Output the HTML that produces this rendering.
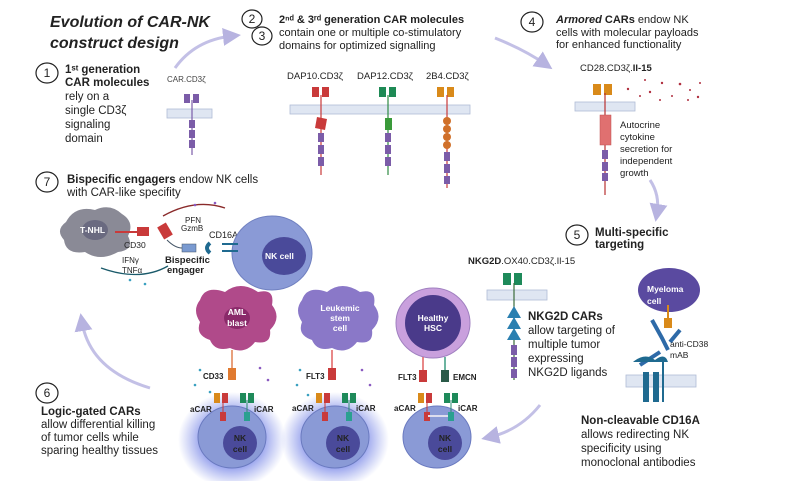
<!DOCTYPE html>
<html><head><meta charset="utf-8"><style>
body{margin:0;background:#fff}
svg{display:block}
text{font-family:"Liberation Sans",sans-serif;fill:#222}
.b{font-weight:bold}
.t{font-size:11.5px}
.s{font-size:8px;fill:#444}
.w{fill:#fff;font-weight:bold;font-size:8.5px}
</style></head><body>
<svg width="810" height="481" viewBox="0 0 810 481" xmlns="http://www.w3.org/2000/svg">
<defs>
<radialGradient id="glow"><stop offset="0.55" stop-color="#4a5de0" stop-opacity="0.6"/><stop offset="1" stop-color="#5a6de0" stop-opacity="0"/></radialGradient>
<marker id="ah" markerWidth="6" markerHeight="6" refX="3" refY="3" orient="auto"><path d="M0,0L6,3L0,6z" fill="#b7b3e0"/></marker>
</defs>
<text x="50" y="27" class="b" font-size="16" font-style="italic">Evolution of CAR-NK</text>
<text x="50" y="48" class="b" font-size="16" font-style="italic">construct design</text>
<g fill="none" stroke="#c3c0e6" stroke-width="3">
<path d="M175,68 Q195,40 232,36" marker-end="url(#ah)"/>
<path d="M495,38 Q525,50 545,64" marker-end="url(#ah)"/>
<path d="M650,180 Q660,195 657,213" marker-end="url(#ah)"/>
<path d="M540,405 Q520,430 490,437" marker-end="url(#ah)"/>
<path d="M150,388 Q90,370 82,322" marker-end="url(#ah)"/>
</g>
<g fill="#fff" stroke="#222" stroke-width="1.2">
<ellipse cx="252" cy="19" rx="10" ry="9"/><ellipse cx="262" cy="36" rx="10" ry="9"/>
<ellipse cx="532" cy="22" rx="11" ry="10"/><ellipse cx="47" cy="73" rx="11" ry="10"/>
<ellipse cx="577" cy="235" rx="11" ry="10"/><ellipse cx="47" cy="182" rx="11" ry="10"/>
<ellipse cx="47" cy="393" rx="11" ry="10"/>
</g>
<g font-size="12" text-anchor="middle"><text x="252" y="23">2</text><text x="262" y="40">3</text><text x="532" y="26">4</text><text x="47" y="77">1</text><text x="577" y="239">5</text><text x="47" y="186">7</text><text x="47" y="397">6</text></g>
<text x="279" y="23" font-size="11"><tspan class="b">2ⁿᵈ &amp; 3ʳᵈ generation CAR molecules</tspan></text>
<text x="279" y="36" font-size="11">contain one or multiple co-stimulatory</text>
<text x="279" y="49" font-size="11">domains for optimized signalling</text>
<text x="556" y="23" font-size="11"><tspan class="b" font-style="italic">Armored</tspan><tspan class="b"> CARs</tspan> endow NK</text>
<text x="556" y="36" font-size="11">cells with molecular payloads</text>
<text x="556" y="48" font-size="11">for enhanced functionality</text>
<text x="65" y="73" class="t b">1ˢᵗ generation</text>
<text x="65" y="86" class="t b">CAR molecules</text>
<text x="65" y="100" class="t">rely on a</text>
<text x="65" y="114" class="t">single CD3ζ</text>
<text x="65" y="128" class="t">signaling</text>
<text x="65" y="142" class="t">domain</text>
<text x="167" y="82" class="s">CAR.CD3ζ</text>
<text x="287" y="79" font-size="9.5">DAP10.CD3ζ</text>
<text x="357" y="79" font-size="9.5">DAP12.CD3ζ</text>
<text x="426" y="79" font-size="9.5">2B4.CD3ζ</text>
<text x="580" y="71" font-size="9.5">CD28.CD3ζ.<tspan class="b">Il-15</tspan></text>
<g font-size="9.5"><text x="620" y="128">Autocrine</text><text x="620" y="140">cytokine</text><text x="620" y="152">secretion for</text><text x="620" y="164">independent</text><text x="620" y="176">growth</text></g>
<text x="595" y="236" class="t b">Multi-specific</text>
<text x="595" y="248" class="t b">targeting</text>
<text x="468" y="264" font-size="9.5"><tspan class="b">NKG2D</tspan>.OX40.CD3ζ.Il-15</text>
<text x="528" y="320" class="t b">NKG2D CARs</text>
<g class="t"><text x="528" y="334">allow targeting of</text><text x="528" y="348">multiple tumor</text><text x="528" y="362">expressing</text><text x="528" y="376">NKG2D ligands</text></g>
<text x="581" y="424" class="t b">Non-cleavable CD16A</text>
<g class="t"><text x="581" y="438">allows redirecting NK</text><text x="581" y="452">specificity using</text><text x="581" y="466">monoclonal antibodies</text></g>
<text x="67" y="183" class="t"><tspan class="b">Bispecific engagers</tspan> endow NK cells</text>
<text x="67" y="196" class="t">with CAR-like specifity</text>
<text x="41" y="415" class="t b">Logic-gated CARs</text>
<g class="t"><text x="41" y="428">allow differential killing</text><text x="41" y="441">of  tumor cells while</text><text x="41" y="454">sparing healthy tissues</text></g>
<g fill="#dfe6f2" stroke="#b0bcd6" stroke-width="0.8">
<rect x="167" y="109" width="45" height="9"/>
<rect x="290" y="105" width="180" height="9"/>
<rect x="575" y="102" width="60" height="9"/>
<rect x="487" y="290" width="60" height="10"/>
<rect x="626" y="375" width="70" height="12"/>
</g>
<g>
<rect x="184" y="94" width="6" height="9" fill="#7b5ca8"/><rect x="193" y="94" width="6" height="9" fill="#7b5ca8"/>
<line x1="192" y1="100" x2="192" y2="155" stroke="#7b5ca8" stroke-width="1.2"/>
<rect x="189" y="120" width="6" height="8" fill="#7b5ca8"/><rect x="189" y="130" width="6" height="8" fill="#7b5ca8"/><rect x="189" y="140" width="6" height="8" fill="#7b5ca8"/>
</g>
<g><rect x="312" y="87" width="7" height="10" fill="#c93a3a"/><rect x="322" y="87" width="7" height="10" fill="#c93a3a"/>
<line x1="321" y1="95" x2="321" y2="175" stroke="#c93a3a" stroke-width="1.2"/>
<path d="M317,117 L327,119 L325,130 L315,128z" fill="#c93a3a"/>
<rect x="318" y="133" width="6" height="9" fill="#7b5ca8"/><rect x="318" y="145" width="6" height="9" fill="#7b5ca8"/><rect x="318" y="157" width="6" height="9" fill="#7b5ca8"/></g>
<g><rect x="379" y="87" width="7" height="10" fill="#1e8a55"/><rect x="389" y="87" width="7" height="10" fill="#1e8a55"/>
<line x1="388" y1="95" x2="388" y2="175" stroke="#2e8a44" stroke-width="1.2"/>
<rect x="385" y="118" width="7" height="12" fill="#3a9a3a"/>
<rect x="385" y="133" width="6" height="9" fill="#7b5ca8"/><rect x="385" y="145" width="6" height="9" fill="#7b5ca8"/><rect x="385" y="157" width="6" height="9" fill="#7b5ca8"/></g>
<g><rect x="437" y="87" width="7" height="10" fill="#d98a1a"/><rect x="447" y="87" width="7" height="10" fill="#d98a1a"/>
<line x1="447" y1="95" x2="447" y2="188" stroke="#c93a3a" stroke-width="1.2"/>
<g fill="#d0702a"><circle cx="447" cy="121" r="4"/><circle cx="447" cy="129" r="4"/><circle cx="447" cy="137" r="4"/><circle cx="447" cy="145" r="4"/></g>
<rect x="444" y="152" width="6" height="9" fill="#7b5ca8"/><rect x="444" y="164" width="6" height="9" fill="#7b5ca8"/><rect x="444" y="176" width="6" height="8" fill="#7b5ca8"/></g>
<g><rect x="593" y="84" width="8" height="11" fill="#d98a1a"/><rect x="604" y="84" width="8" height="11" fill="#d98a1a"/>
<line x1="605" y1="93" x2="605" y2="195" stroke="#b83030" stroke-width="1.2"/>
<rect x="600" y="115" width="11" height="30" fill="#e07070" stroke="#c05050" stroke-width="0.5"/>
<rect x="602" y="150" width="6" height="9" fill="#7b5ca8"/><rect x="602" y="162" width="6" height="9" fill="#7b5ca8"/><rect x="602" y="173" width="6" height="8" fill="#7b5ca8"/>
<g fill="#b03040"><circle cx="628" cy="89" r="1.2"/><circle cx="645" cy="80" r="1"/><circle cx="650" cy="92" r="1.2"/><circle cx="662" cy="83" r="1.2"/><circle cx="672" cy="96" r="1"/><circle cx="680" cy="84" r="1.3"/><circle cx="690" cy="90" r="1"/><circle cx="698" cy="97" r="1.2"/><circle cx="700" cy="83" r="1"/><circle cx="660" cy="100" r="1"/><circle cx="640" cy="96" r="1"/><circle cx="688" cy="100" r="1"/></g></g>
<g><rect x="503" y="273" width="8" height="12" fill="#1e8a5a"/><rect x="514" y="273" width="8" height="12" fill="#1e8a5a"/>
<line x1="514" y1="283" x2="514" y2="380" stroke="#3a6a3a" stroke-width="1.2"/>
<g fill="#2a7fb0"><path d="M507,318 L514,306 L521,318z"/><path d="M507,329 L514,317 L521,329z"/><path d="M507,340 L514,328 L521,340z"/></g>
<rect x="511" y="345" width="6" height="10" fill="#7b5ca8"/><rect x="511" y="357" width="6" height="10" fill="#7b5ca8"/><rect x="511" y="369" width="6" height="9" fill="#7b5ca8"/></g>
<ellipse cx="669" cy="290" rx="31" ry="22" fill="#5a4aa0"/>
<text x="647" y="292" class="w" font-size="10">Myeloma</text><text x="647" y="304" class="w" font-size="10">cell</text>
<line x1="668" y1="305" x2="668" y2="320" stroke="#d98a1a" stroke-width="2"/>
<rect x="664" y="318" width="8" height="10" fill="#d98a1a"/>
<g stroke="#2e6aa8" stroke-width="4" fill="none"><path d="M652,320 L662,338 L668,350"/><path d="M680,330 L670,342"/><path d="M660,352 L640,365"/></g>
<text x="670" y="347" font-size="8.5">anti-CD38</text><text x="670" y="358" font-size="8.5">mAB</text>
<path d="M633,362 Q645,352 655,360 Q665,352 668,362 Z" fill="#1f6a90"/>
<rect x="643" y="372" width="6" height="30" fill="#1f6a90"/><rect x="653" y="372" width="6" height="30" fill="#1f6a90"/>
<line x1="663" y1="362" x2="663" y2="402" stroke="#1f6a90" stroke-width="2"/>
<path d="M66,222 Q75,205 95,210 Q110,203 122,214 Q135,222 128,236 Q135,250 118,252 Q100,262 85,252 Q66,255 64,240 Q55,230 66,222z" fill="#8a8a96"/>
<ellipse cx="95" cy="230" rx="13" ry="10" fill="#6a6a80"/>
<text x="80" y="233" class="w">T-NHL</text>
<line x1="115" y1="232" x2="140" y2="232" stroke="#c93a3a" stroke-width="2"/>
<rect x="137" y="227" width="12" height="9" fill="#c93a3a"/>
<text x="124" y="248" font-size="8.5">CD30</text>
<rect x="160" y="224" width="10" height="14" fill="#c93a3a" transform="rotate(-30 165 231)"/>
<rect x="182" y="244" width="14" height="8" fill="#7a9ad0" stroke="#456" stroke-width="0.5"/>
<path d="M167,240 Q175,248 182,248" stroke="#456" fill="none"/>
<path d="M210,243 Q204,248 210,253" stroke="#1f6a90" stroke-width="4" fill="none"/>
<text x="165" y="263" font-size="9.5" fill="#d03030" class="b">Bispecific</text>
<text x="167" y="273" font-size="9.5" fill="#d03030" class="b">engager</text>
<text x="122" y="263" font-size="8" fill="#2aa0c0">IFNγ</text>
<text x="122" y="273" font-size="8" fill="#7ab050">TNFα</text>
<text x="185" y="223" font-size="8" fill="#d08a30">PFN</text>
<text x="181" y="231" font-size="8" fill="#8a5ac0">GzmB</text>
<text x="209" y="238" font-size="9">CD16A</text>
<path d="M225,208 Q195,198 163,216" fill="none" stroke="#8a2a2a" stroke-width="1.3"/>
<path d="M168,266 Q140,282 101,268" fill="none" stroke="#1a5a6a" stroke-width="1.3"/>
<ellipse cx="272" cy="253" rx="40" ry="37" fill="#8a9ad6" stroke="#7080c0"/>
<ellipse cx="284" cy="256" rx="22" ry="19" fill="#4a4a9a"/>
<text x="265" y="259" class="w" font-size="9.5">NK cell</text>
<rect x="222" y="243" width="16" height="2" fill="#1f6a90"/><rect x="222" y="250" width="16" height="2" fill="#1f6a90"/>
<ellipse cx="232" cy="440" rx="54" ry="48" fill="url(#glow)"/>
<ellipse cx="335" cy="440" rx="54" ry="48" fill="url(#glow)"/>
<g fill="#8a9ad6" stroke="#6a7ac0"><ellipse cx="232" cy="437" rx="34" ry="31"/><ellipse cx="335" cy="437" rx="34" ry="31"/><ellipse cx="437" cy="437" rx="34" ry="31"/></g>
<g fill="#4a4a9a"><circle cx="240" cy="443" r="17"/><circle cx="343" cy="443" r="17"/><circle cx="445" cy="443" r="17"/></g>
<g class="w" font-size="9" text-anchor="middle"><text x="240" y="441">NK</text><text x="240" y="452">cell</text><text x="343" y="441">NK</text><text x="343" y="452">cell</text><text x="445" y="441">NK</text><text x="445" y="452">cell</text></g>
<path d="M200,300 Q205,285 225,292 Q240,280 258,292 Q275,288 272,305 Q282,318 270,330 Q272,345 255,342 Q245,355 230,348 Q215,352 210,340 Q195,335 200,322 Q192,310 200,300z" fill="#b04a8a"/>
<ellipse cx="237" cy="318" rx="13" ry="11" fill="#8a2a6a"/>
<text x="237" y="315" class="w" text-anchor="middle">AML</text><text x="237" y="326" class="w" text-anchor="middle">blast</text>
<line x1="232" y1="350" x2="232" y2="370" stroke="#e08050" stroke-width="1.5"/>
<rect x="228" y="368" width="8" height="12" fill="#e07a30"/>
<text x="203" y="379" font-size="8" class="b">CD33</text>
<path d="M302,300 Q307,285 327,292 Q342,280 360,292 Q377,288 374,305 Q384,318 372,330 Q374,345 357,342 Q347,355 332,348 Q317,352 312,340 Q297,335 302,322 Q294,310 302,300z" fill="#8a78c8"/>
<text x="340" y="311" class="w" text-anchor="middle">Leukemic</text><text x="340" y="321" class="w" text-anchor="middle">stem</text><text x="340" y="331" class="w" text-anchor="middle">cell</text>
<line x1="332" y1="350" x2="332" y2="370" stroke="#e06060" stroke-width="1.5"/>
<rect x="328" y="368" width="8" height="12" fill="#c93a3a"/>
<text x="306" y="379" font-size="8" class="b">FLT3</text>
<ellipse cx="433" cy="323" rx="37" ry="35" fill="#c9a0dd" stroke="#a080c0"/>
<circle cx="433" cy="323" r="28" fill="#4a3a8a"/>
<text x="433" y="321" class="w" text-anchor="middle">Healthy</text><text x="433" y="331" class="w" text-anchor="middle">HSC</text>
<line x1="423" y1="357" x2="423" y2="372" stroke="#e06060" stroke-width="1.5"/>
<line x1="445" y1="357" x2="445" y2="372" stroke="#3a9a80" stroke-width="1.5"/>
<rect x="419" y="370" width="8" height="12" fill="#c93a3a"/><rect x="441" y="370" width="8" height="12" fill="#2a5a48"/>
<text x="398" y="380" font-size="8" class="b">FLT3</text><text x="453" y="380" font-size="8" class="b">EMCN</text>
<g>
<g id="pair">
<rect x="214" y="393" width="6" height="10" fill="#d98a1a"/><rect x="222" y="393" width="6" height="10" fill="#c93a3a"/>
<line x1="223" y1="400" x2="223" y2="418" stroke="#c93a3a"/><rect x="220" y="412" width="6" height="9" fill="#c93a3a"/>
<rect x="240" y="393" width="6" height="10" fill="#1e8a5a"/><rect x="248" y="393" width="6" height="10" fill="#1e8a5a"/>
<line x1="247" y1="400" x2="247" y2="418" stroke="#2a8a70"/><rect x="244" y="412" width="6" height="9" fill="#2aa090"/>
</g>
<use href="#pair" x="102"/><use href="#pair" x="204"/>
</g>
<g font-size="8" class="b"><text x="190" y="412">aCAR</text><text x="254" y="412">iCAR</text><text x="292" y="411">aCAR</text><text x="356" y="411">iCAR</text><text x="394" y="411">aCAR</text><text x="458" y="411">iCAR</text></g>
<line x1="428" y1="416" x2="448" y2="416" stroke="#dde" stroke-width="2"/>
<g fill="#3aa0c0"><circle cx="200" cy="370" r="1.3"/><circle cx="195" cy="385" r="1.3"/><circle cx="210" cy="392" r="1.3"/><circle cx="300" cy="370" r="1.3"/><circle cx="297" cy="385" r="1.3"/><circle cx="308" cy="395" r="1.3"/><circle cx="130" cy="280" r="1.3"/><circle cx="145" cy="284" r="1.3"/></g>
<g fill="#8a5ac0"><circle cx="260" cy="368" r="1.3"/><circle cx="268" cy="380" r="1.3"/><circle cx="362" cy="370" r="1.3"/><circle cx="370" cy="385" r="1.3"/><circle cx="195" cy="205" r="1.3"/><circle cx="215" cy="203" r="1.3"/></g>
</svg>
</body></html>
